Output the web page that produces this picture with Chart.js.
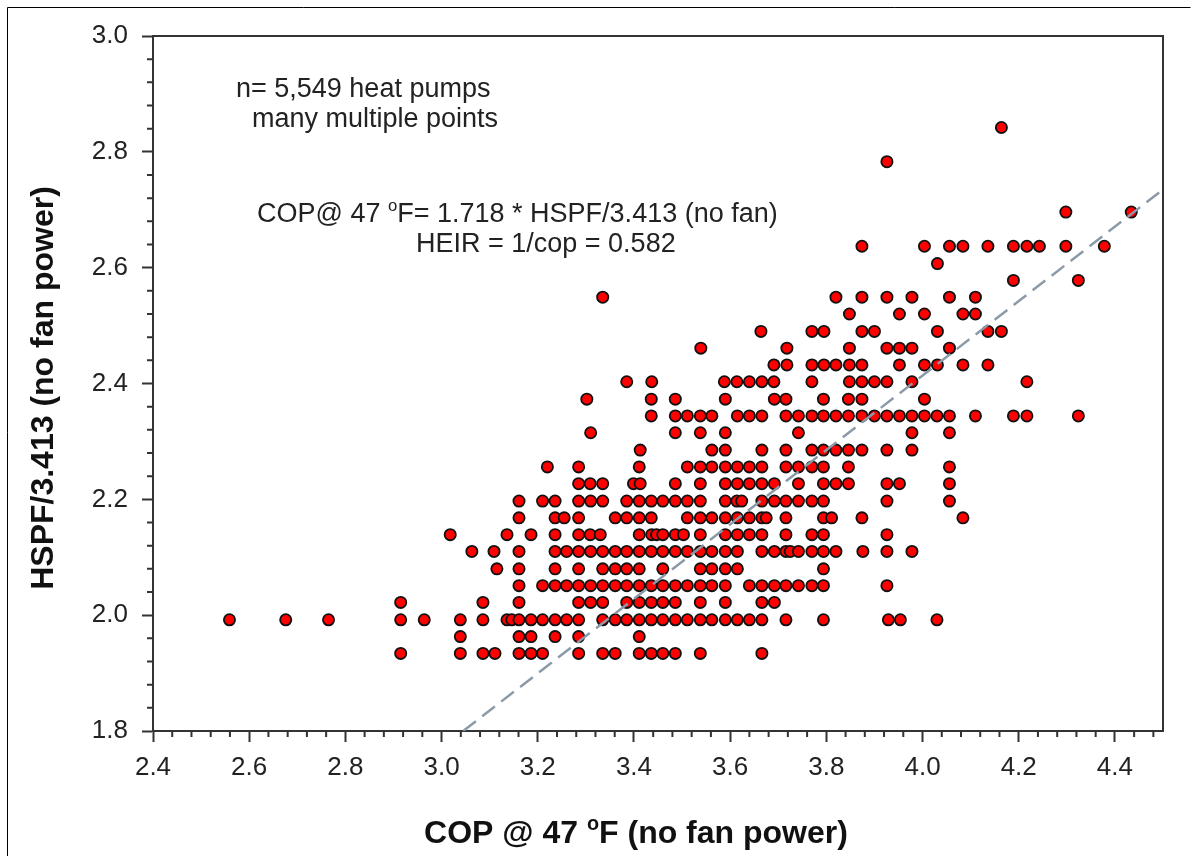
<!DOCTYPE html>
<html>
<head>
<meta charset="utf-8">
<script src="https://cdn.jsdelivr.net/npm/chart.js@4"></script>
<style>
    html, body { margin: 0; padding: 0; background: #fff; }
    #wrap { width: 1197px; height: 856px; }
</style>
</head>
<body>
<div id="wrap"><canvas id="chartCop" width="1197" height="856"></canvas></div>
<script>
// HSPF/3.413 levels (one row per 0.1 HSPF step)
const hspfRows = [1.934, 1.963, 1.992, 2.022, 2.051, 2.080, 2.110, 2.139, 2.168, 2.197,
    2.227, 2.256, 2.285, 2.315, 2.344, 2.373, 2.403, 2.432, 2.461, 2.490,
    2.520, 2.549, 2.578, 2.607, 2.637, 2.696, 2.783, 2.842];

// COP @ 47F values found on each row (same order as hspfRows)
const copByRow = [
    [2.915, 3.039, 3.086, 3.111, 3.161, 3.186, 3.210, 3.285, 3.335, 3.361, 3.411, 3.436, 3.460, 3.486, 3.538, 3.666],
    [3.039, 3.161, 3.186, 3.236, 3.285, 3.411],
    [2.559, 2.676, 2.765, 2.915, 2.964, 3.039, 3.086, 3.136, 3.146, 3.161, 3.186, 3.210, 3.236, 3.260, 3.285, 3.335, 3.361,
        3.385, 3.411, 3.436, 3.460, 3.486, 3.511, 3.538, 3.562, 3.590, 3.615, 3.640, 3.666, 3.716, 3.794, 3.929, 3.954, 4.030],
    [2.915, 3.086, 3.161, 3.285, 3.310, 3.335, 3.385, 3.411, 3.436, 3.460, 3.486, 3.538, 3.590, 3.666, 3.692],
    [3.161, 3.210, 3.236, 3.260, 3.285, 3.310, 3.335, 3.361, 3.385, 3.411, 3.436, 3.460, 3.486, 3.511, 3.538, 3.562,
        3.590, 3.640, 3.666, 3.692, 3.716, 3.742, 3.770, 3.794, 3.926],
    [3.115, 3.161, 3.236, 3.285, 3.335, 3.361, 3.385, 3.411, 3.460, 3.538, 3.562, 3.590, 3.615, 3.794],
    [3.063, 3.109, 3.161, 3.236, 3.260, 3.285, 3.310, 3.335, 3.361, 3.385, 3.411, 3.436, 3.460, 3.486, 3.511, 3.538,
        3.562, 3.590, 3.615, 3.666, 3.692, 3.716, 3.725, 3.742, 3.770, 3.794, 3.820, 3.876, 3.926, 3.978],
    [3.018, 3.136, 3.186, 3.236, 3.285, 3.309, 3.330, 3.411, 3.437, 3.447, 3.460, 3.486, 3.503, 3.538, 3.590, 3.615,
        3.640, 3.666, 3.716, 3.770, 3.794, 3.926],
    [3.161, 3.236, 3.255, 3.285, 3.361, 3.385, 3.411, 3.436, 3.511, 3.538, 3.562, 3.590, 3.615, 3.640, 3.666, 3.675,
        3.716, 3.794, 3.811, 3.874, 4.084],
    [3.161, 3.210, 3.236, 3.285, 3.310, 3.335, 3.385, 3.411, 3.436, 3.460, 3.486, 3.511, 3.538, 3.590, 3.614, 3.624,
        3.666, 3.692, 3.716, 3.742, 3.770, 3.794, 3.926, 4.056],
    [3.285, 3.309, 3.335, 3.399, 3.413, 3.486, 3.538, 3.590, 3.615, 3.640, 3.666, 3.692, 3.742, 3.794, 3.820, 3.846,
        3.926, 3.952, 4.056],
    [3.220, 3.285, 3.411, 3.511, 3.538, 3.562, 3.590, 3.615, 3.640, 3.666, 3.716, 3.742, 3.770, 3.794, 3.846, 4.056],
    [3.413, 3.562, 3.590, 3.666, 3.716, 3.770, 3.794, 3.820, 3.846, 3.874, 3.926, 3.978],
    [3.310, 3.486, 3.538, 3.590, 3.742, 3.978, 4.056],
    [3.436, 3.486, 3.511, 3.538, 3.562, 3.615, 3.640, 3.666, 3.716, 3.742, 3.770, 3.794, 3.820, 3.846, 3.874, 3.900,
        3.926, 3.952, 3.978, 4.004, 4.030, 4.056, 4.110, 4.189, 4.217, 4.324],
    [3.302, 3.436, 3.486, 3.590, 3.692, 3.716, 3.794, 3.846, 3.874, 4.004],
    [3.385, 3.437, 3.588, 3.614, 3.640, 3.666, 3.691, 3.770, 3.848, 3.874, 3.900, 3.926, 3.978, 4.217],
    [3.691, 3.718, 3.770, 3.795, 3.820, 3.848, 3.874, 3.952, 4.004, 4.031, 4.084, 4.136],
    [3.539, 3.718, 3.848, 3.926, 3.952, 3.978, 4.056],
    [3.664, 3.770, 3.795, 3.874, 3.900, 4.031, 4.136, 4.164],
    [3.848, 3.952, 4.004, 4.084, 4.110],
    [3.335, 3.820, 3.874, 3.926, 3.978, 4.056, 4.110],
    [4.189, 4.324],
    [4.031],
    [3.874, 4.004, 4.056, 4.084, 4.136, 4.189, 4.217, 4.243, 4.298, 4.378],
    [4.298, 4.434],
    [3.926],
    [4.164]
];

// dashed fit line ends
const fitLineCop = [3.045, 4.5];
const fitLineHspf = [1.8, 2.735];

const xTickLabels = [2.4, 2.6, 2.8, 3.0, 3.2, 3.4, 3.6, 3.8, 4.0, 4.2, 4.4];
const yTickLabels = [1.8, 2.0, 2.2, 2.4, 2.6, 2.8, 3.0];

const FONT = '"Liberation Sans", Arial, sans-serif';

// build points
const scatterPoints = [];
hspfRows.forEach((h, i) => {
    copByRow[i].forEach(c => scatterPoints.push({ x: c, y: h }));
});
const fitPoints = fitLineCop.map((c, i) => ({ x: c, y: fitLineHspf[i] }));

// draw text pieces, some of them as superscript
function drawPieces(ctx, pieces, x, y, size, bold, align) {
    const w = bold ? 'bold ' : '';
    let total = 0;
    pieces.forEach(p => {
        ctx.font = w + (p.sup ? size * 0.62 : size) + 'px ' + FONT;
        p.w = ctx.measureText(p.t).width;
        total += p.w;
    });
    let cx = align === 'center' ? x - total / 2 : x;
    ctx.textAlign = 'left';
    ctx.textBaseline = 'alphabetic';
    pieces.forEach(p => {
        ctx.font = w + (p.sup ? size * 0.62 : size) + 'px ' + FONT;
        ctx.fillText(p.t, cx, p.sup ? y - size * 0.42 : y);
        cx += p.w;
    });
}

const decorPlugin = {
    id: 'decor',
    afterDraw(chart) {
        const ctx = chart.ctx;
        const a = chart.chartArea;
        const xs = chart.scales.x, ys = chart.scales.y;
        ctx.save();

        // top and right frame of plot
        ctx.strokeStyle = '#333';
        ctx.lineWidth = 2;
        ctx.beginPath();
        ctx.moveTo(a.left, a.top);
        ctx.lineTo(a.right, a.top);
        ctx.lineTo(a.right, a.bottom);
        ctx.stroke();

        // minor ticks
        ctx.lineWidth = 2;
        ctx.beginPath();
        for (let i = 1; i < 53; i++) {
            if (i % 5 === 0) continue;
            const px = xs.getPixelForValue(2.4 + i * 0.04);
            ctx.moveTo(px, a.bottom);
            ctx.lineTo(px, a.bottom + 6);
        }
        for (let i = 1; i < 30; i++) {
            if (i % 5 === 0) continue;
            const py = ys.getPixelForValue(1.8 + i * 0.04);
            ctx.moveTo(a.left, py);
            ctx.lineTo(a.left - 6, py);
        }
        ctx.stroke();

        // outer frame of the picture
        ctx.strokeStyle = '#000';
        ctx.lineWidth = 1;
        ctx.beginPath();
        ctx.moveTo(7.5, 870);
        ctx.lineTo(7.5, 7.5);
        ctx.lineTo(1190.5, 7.5);
        ctx.stroke();

        ctx.fillStyle = '#111';
        // axis titles
        drawPieces(ctx, [{ t: 'COP @ 47 ' }, { t: 'o', sup: true }, { t: 'F (no fan power)' }],
            636, 843, 32, true, 'center');
        ctx.save();
        ctx.translate(53, 388);
        ctx.rotate(-Math.PI / 2);
        drawPieces(ctx, [{ t: 'HSPF/3.413 (no fan power)' }], 0, 0, 32, true, 'center');
        ctx.restore();

        // notes
        ctx.fillStyle = '#222';
        drawPieces(ctx, [{ t: 'n= 5,549 heat pumps' }], 236, 97, 27, false, 'left');
        drawPieces(ctx, [{ t: 'many multiple points' }], 252, 127, 27, false, 'left');
        drawPieces(ctx, [{ t: 'COP@ 47 ' }, { t: 'o', sup: true }, { t: 'F= 1.718 * HSPF/3.413 (no fan)' }],
            257, 222, 27, false, 'left');
        drawPieces(ctx, [{ t: 'HEIR = 1/cop = 0.582' }], 416, 252, 27, false, 'left');

        ctx.restore();
    }
};

const chartCop = new Chart(document.getElementById('chartCop'), {
    type: 'scatter',
    data: {
        datasets: [
            {
                type: 'line',
                data: fitPoints,
                borderColor: 'rgb(140, 154, 168)',
                borderWidth: 2.5,
                borderDash: [16, 8],
                pointRadius: 0,
                fill: false,
                order: 0
            },
            {
                data: scatterPoints,
                backgroundColor: '#ff0000',
                borderColor: '#111',
                borderWidth: 1.8,
                pointRadius: 5.6,
                pointHoverRadius: 5.6,
                order: 1
            }
        ]
    },
    options: {
        responsive: false,
        animation: false,
        devicePixelRatio: 1,
        layout: { padding: { top: 36, right: 34, left: 0, bottom: 0 } },
        plugins: { legend: { display: false }, tooltip: { enabled: false } },
        scales: {
            x: {
                type: 'linear',
                min: 2.4,
                max: 4.5,
                afterBuildTicks: axis => { axis.ticks = xTickLabels.map(v => ({ value: v })); },
                afterFit: axis => { axis.height = 125; },
                grid: { drawOnChartArea: false, tickLength: 11, tickColor: '#333', tickWidth: 2 },
                border: { color: '#333', width: 2 },
                ticks: {
                    font: { family: FONT, size: 26 },
                    color: '#222',
                    padding: 10,
                    maxRotation: 0,
                    callback: v => Number(v).toFixed(1)
                }
            },
            y: {
                type: 'linear',
                min: 1.8,
                max: 3.0,
                afterBuildTicks: axis => { axis.ticks = yTickLabels.map(v => ({ value: v })); },
                afterFit: axis => { axis.width = 153; },
                grid: { drawOnChartArea: false, tickLength: 11, tickColor: '#333', tickWidth: 2 },
                border: { color: '#333', width: 2 },
                ticks: {
                    font: { family: FONT, size: 26 },
                    color: '#222',
                    padding: 14,
                    callback: v => Number(v).toFixed(1)
                }
            }
        }
    },
    plugins: [decorPlugin]
});
</script>
</body>
</html>
